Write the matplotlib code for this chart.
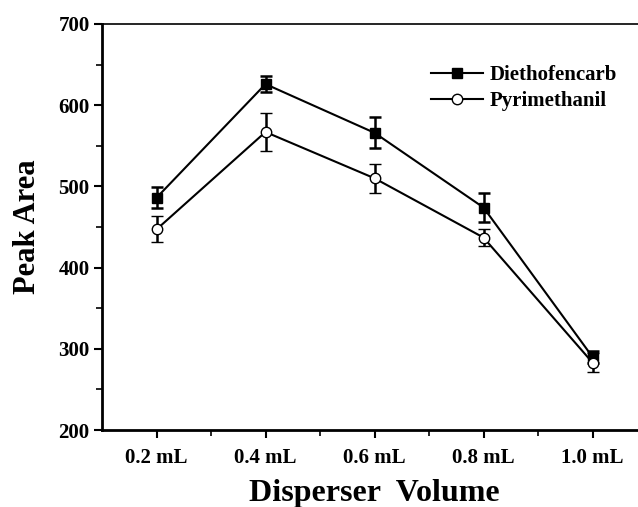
import matplotlib.pyplot as plt
from matplotlib.lines import Line2D
import numpy as np

plt.rcParams['font.family'] = ['Liberation Serif', 'DejaVu Serif']
plt.rcParams['font.weight'] = 'bold'

volumes = ['0.2 mL', '0.4 mL', '0.6 mL', '0.8 mL', '1.0 mL']
dieth = [486, 626, 566, 474, 290]
dieth_err = [13, 10, 19, 18, 7]
pyri = [447, 567, 510, 437, 283]
pyri_err = [16, 23, 18, 10, 12]

fig = plt.figure(figsize=(6.38, 5.07), dpi=100)
ax = fig.add_axes([102/638, 77/507, 545/638, 406/507])

x = np.arange(len(volumes))
ax.errorbar(x, dieth, yerr=dieth_err, color='black', lw=1.5, marker='s', ms=6.5,
            mfc='black', mec='black', capsize=4, capthick=1.8, elinewidth=1.8)
ax.errorbar(x, pyri, yerr=pyri_err, color='black', lw=1.5, marker='o', ms=7.5,
            mfc='white', mec='black', mew=1, capsize=4, capthick=1.8, elinewidth=1.8)

ax.set_xlim(-0.5, 4.5)
ax.set_ylim(200, 700)
ax.set_xticks(x)
ax.set_xticklabels(volumes)
ax.set_xticks(x[:-1] + 0.5, minor=True)
ax.set_yticks(range(200, 701, 100))
ax.set_yticks(range(250, 700, 100), minor=True)
ax.tick_params(which='major', direction='out', length=6, width=1.5, labelsize=15, pad=3)
ax.tick_params(which='minor', direction='out', length=4, width=1.2)
ax.tick_params(axis='x', which='major', pad=7)
for lab in ax.get_xticklabels() + ax.get_yticklabels():
    lab.set_fontweight('bold')

ax.spines['left'].set_linewidth(2)
ax.spines['bottom'].set_linewidth(2)
ax.spines['top'].set_linewidth(1.2)
ax.spines['right'].set_visible(False)

ax.set_xlabel('Disperser  Volume', fontsize=23, fontweight='bold', labelpad=8)
ax.set_ylabel('Peak Area', fontsize=22, fontweight='bold', labelpad=12)

handles = [
    Line2D([], [], color='black', lw=1.5, marker='s', ms=6.5, mfc='black'),
    Line2D([], [], color='black', lw=1.5, marker='o', ms=7.5, mfc='white', mew=1),
]
ax.legend(handles, ['Diethofencarb', 'Pyrimethanil'], loc='upper left',
          bbox_to_anchor=(0.57, 0.945), frameon=False,
          prop={'size': 15, 'weight': 'bold'}, handlelength=2.5,
          handletextpad=0.3, labelspacing=0.3)

fig.savefig('out.png', dpi=100)
